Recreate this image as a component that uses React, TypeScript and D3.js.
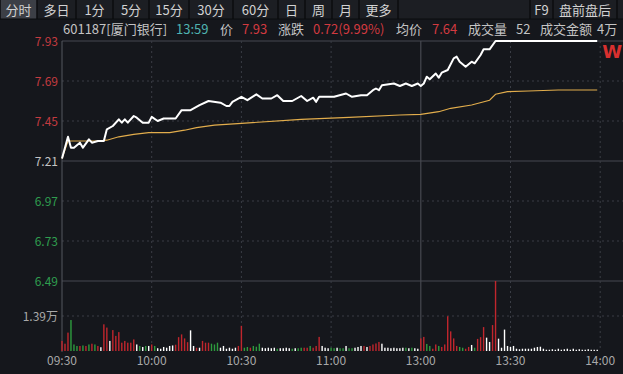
import React from "react";
import * as d3 from "d3";

const W = 623;
const H = 374;

// toolbar
const tabLabels = ["分时", "多日", "1分", "5分", "15分", "30分", "60分", "日", "周", "月", "更多"];
const tabEdges = [0, 37, 76, 113, 149, 189, 233, 278, 305, 332, 359, 398];
const rightTabLabels = ["F9", "盘前盘后"];
const rightTabEdges = [530, 553, 617];

// header info
const headerItems: [string, number, string][] = [
  ["601187[厦门银行]", 63, "label"],
  ["13:59", 176, "time"],
  ["价", 220, "label"],
  ["7.93", 242, "up"],
  ["涨跌", 278, "label"],
  ["0.72(9.99%)", 313, "up"],
  ["均价", 396, "label"],
  ["7.64", 432, "up"],
  ["成交量", 468, "label"],
  ["52", 516, "label"],
  ["成交金额", 540, "label"],
  ["4万", 597, "label"],
];

// axes
const priceTicks = [7.93, 7.69, 7.45, 7.21, 6.97, 6.73, 6.49];
const prevClose = 7.21;
const timeTicks = [0, 30, 60, 90, 120, 150, 180];
const timeLabels = ["09:30", "10:00", "10:30", "11:00", "13:00", "13:30", "14:00"];
const volTick = 1.39;
const volTickLabel = "1.39万";

// price line (minute index, price)
const priceMin = [0, 2, 3, 4, 6, 7, 9, 10, 12, 14, 15, 17, 19, 20, 21, 22, 24, 25, 27, 29, 30, 32, 34, 38, 40, 43, 46, 49, 53, 55, 56, 57, 60, 62, 65, 67, 70, 72, 74, 77, 80, 82, 84, 85, 86, 91, 95, 97, 100, 102, 104, 105, 106, 107, 111, 113, 115, 117, 119, 120, 121, 122, 123, 125, 126, 127, 129, 131, 132, 133, 135, 137, 138, 140, 141, 143, 145, 179];
const priceVal = [7.225, 7.356, 7.29, 7.29, 7.32, 7.29, 7.34, 7.32, 7.33, 7.33, 7.40, 7.42, 7.46, 7.44, 7.46, 7.44, 7.48, 7.47, 7.44, 7.44, 7.475, 7.45, 7.465, 7.465, 7.515, 7.515, 7.545, 7.57, 7.56, 7.54, 7.54, 7.565, 7.595, 7.575, 7.61, 7.585, 7.585, 7.605, 7.57, 7.57, 7.60, 7.57, 7.59, 7.565, 7.595, 7.595, 7.615, 7.595, 7.605, 7.605, 7.635, 7.645, 7.635, 7.665, 7.675, 7.66, 7.675, 7.66, 7.675, 7.66, 7.675, 7.716, 7.70, 7.735, 7.71, 7.74, 7.756, 7.826, 7.836, 7.806, 7.776, 7.806, 7.796, 7.846, 7.88, 7.88, 7.93, 7.93];

// average price line
const avgMin = [0, 2, 12, 15, 19, 24, 29, 36, 41, 45, 51, 60, 80, 96, 113, 120, 126, 130, 137, 143, 145, 149, 156, 166, 179];
const avgVal = [7.225, 7.33, 7.33, 7.335, 7.355, 7.37, 7.38, 7.38, 7.395, 7.41, 7.425, 7.436, 7.46, 7.472, 7.486, 7.49, 7.506, 7.526, 7.546, 7.575, 7.61, 7.626, 7.63, 7.636, 7.636];

// volume per minute (万) and direction
const volume = [
  0.40, 0.29, 0.73, 1.23, 0.26, 0.20, 0.20, 0.22, 0.20, 0.26,
  0.29, 0.26, 0.20, 0.15, 1.06, 0.93, 0.40, 0.83, 0.60, 0.75,
  0.33, 0.40, 0.33, 0.33, 0.46, 0.26, 0.20, 0.16, 0.20, 0.20,
  0.26, 0.20, 0.11, 0.09, 0.16, 0.13, 0.20, 0.22, 0.25, 0.55,
  0.66, 0.50, 0.35, 0.82, 0.20, 0.13, 0.13, 0.40, 0.33, 0.33,
  0.29, 0.26, 0.33, 0.13, 0.20, 0.09, 0.13, 0.09, 0.13, 0.20,
  1.00, 0.13, 0.16, 0.13, 0.20, 0.17, 0.29, 0.13, 0.11, 0.13,
  0.11, 0.13, 0.09, 0.11, 0.11, 0.13, 0.11, 0.09, 0.11, 0.11,
  0.13, 0.13, 0.13, 0.20, 0.13, 0.20, 0.56, 0.20, 0.13, 0.11,
  0.13, 0.11, 0.13, 0.11, 0.11, 0.20, 0.11, 0.11, 0.13, 0.16,
  0.20, 0.20, 0.16, 0.20, 0.26, 0.30, 0.36, 0.29, 0.13, 0.13,
  0.11, 0.13, 0.11, 0.11, 0.13, 0.13, 0.11, 0.13, 0.11, 0.09,
  0.50, 0.56, 0.28, 0.20, 0.09, 0.26, 0.20, 0.16, 0.26, 1.38,
  0.78, 0.50, 0.20, 0.16, 0.13, 0.09, 0.16, 0.24, 0.13, 0.48,
  0.55, 0.95, 0.53, 0.36, 1.03, 2.78, 0.49, 0.13, 0.85, 0.20,
  0.16, 0.20, 0.09, 0.07, 0.09, 0.09, 0.09, 0.09, 0.13, 0.16,
  0.17, 0.09, 0.05, 0.05, 0.07, 0.05, 0.09, 0.05, 0.07, 0.09,
  0.05, 0.09, 0.05, 0.07, 0.05, 0.05, 0.07, 0.05, 0.05, 0.05,
];
const volumeDir =
  "rrrgggrgrg" + "rgrwrrwrrr" + "rrrrrwgwgw" + "rgwwwwwwrr" + "rrrwwrwrrr" + "gggwwwwwwr" +
  "rggrgggwww" + "wwgwwwwgwg" + "grrgrrrwww" + "ggwggwggww" + "wrwrrrrwww" + "wwwwwgwgww" +
  "rrggrrgrrr" + "rrrggrrwgr" + "rrwwrrwwww" + "wwwwwwwwww" + "wwwwwwwwww" + "wwwwwwwwww";

const BG = "#15171c";
const BAR_BG = "#1c1e23";
const RED = "#d23a40";
const AXIS_RED = "#c33b40";
const GREEN = "#2f9e4f";
const GRAY = "#c4c4c4";
const GRID = "#3a3d45";
const SOLID = "#464950";
const FONT = "'Noto Sans CJK SC', 'Noto Sans', sans-serif";

export default function App() {
  const left = 62;
  const xs = d3.scaleLinear().domain([0, 180]).range([left, 600.2]);
  const ys = d3.scaleLinear().domain([6.49, 7.93]).range([281, 41]);
  const vs = d3.scaleLinear().domain([0, 2.78]).range([351, 281]);

  const priceData = priceMin.map((m, i) => [m, priceVal[i]] as [number, number]);
  const avgData = avgMin.map((m, i) => [m, avgVal[i]] as [number, number]);
  const line = d3
    .line<[number, number]>()
    .x((d) => xs(d[0]))
    .y((d) => ys(d[1]));

  const dirColor = (c: string) => (c === "r" ? "#c0262d" : c === "g" ? "#2e9c3e" : "#ffffff");
  const headColor = (k: string) => (k === "up" ? RED : k === "time" ? "#4fb3b0" : GRAY);
  const tickColor = (p: number) => (p > prevClose + 1e-6 ? AXIS_RED : p < prevClose - 1e-6 ? GREEN : GRAY);

  return (
    <svg
      width={W}
      height={H}
      style={{ position: "absolute", left: 0, top: 0, display: "block" }}
      fontFamily={FONT}
    >
      <rect x={0} y={0} width={W} height={H} fill={BG} />
      {/* toolbar */}
      <rect x={0} y={0} width={W} height={19} fill={BAR_BG} />
      <rect x={0} y={0} width={37} height={19} fill="#3c3f46" />
      {tabEdges.map((e, i) => (
        <line key={"te" + i} x1={e} x2={e} y1={0} y2={19} stroke="#0b0c0f" strokeWidth={1.5} />
      ))}
      {rightTabEdges.map((e, i) => (
        <line key={"re" + i} x1={e} x2={e} y1={0} y2={19} stroke="#0b0c0f" strokeWidth={1.5} />
      ))}
      <line x1={0} x2={W} y1={19} y2={19} stroke="#0b0c0f" strokeWidth={1} />
      {tabLabels.map((t, i) => (
        <text
          key={"t" + i}
          x={(tabEdges[i] + tabEdges[i + 1]) / 2}
          y={14.5}
          fontSize={13}
          fill="#d2d2d2"
          textAnchor="middle"
        >
          {t}
        </text>
      ))}
      {rightTabLabels.map((t, i) => (
        <text
          key={"rt" + i}
          x={(rightTabEdges[i] + rightTabEdges[i + 1]) / 2}
          y={14.5}
          fontSize={13}
          fill="#d2d2d2"
          textAnchor="middle"
        >
          {t}
        </text>
      ))}
      {/* header */}
      {headerItems.map(([t, x, k], i) => (
        <text key={"h" + i} x={x} y={34} fontSize={13} fill={headColor(k)}>
          {t}
        </text>
      ))}
      {/* grid */}
      {priceTicks.map((p, i) => {
        const solid = i === 0 || p === prevClose || i === priceTicks.length - 1;
        return (
          <line
            key={"g" + i}
            x1={left}
            x2={W}
            y1={ys(p)}
            y2={ys(p)}
            stroke={solid ? SOLID : GRID}
            strokeWidth={solid ? 1.2 : 1}
            strokeDasharray={solid ? undefined : "2,3"}
          />
        );
      })}
      <line x1={left} x2={W} y1={vs(volTick)} y2={vs(volTick)} stroke={GRID} strokeDasharray="2,3" />
      {timeTicks.slice(1).map((m, i) => (
        <line
          key={"v" + i}
          x1={xs(m)}
          x2={xs(m)}
          y1={41}
          y2={351}
          stroke={m === 120 ? SOLID : GRID}
          strokeWidth={m === 120 ? 1.2 : 1}
          strokeDasharray={m === 120 ? undefined : "2,3"}
        />
      ))}
      <line x1={left} x2={left} y1={41} y2={352} stroke="#55585f" strokeWidth={1} />
      {/* y labels */}
      {priceTicks.map((p, i) => (
        <text
          key={"yl" + i}
          x={58}
          y={ys(p) + 4.5}
          fontSize={12}
          textAnchor="end"
          fill={tickColor(p)}
        >
          {p.toFixed(2)}
        </text>
      ))}
      <text x={58} y={vs(volTick) + 4.5} fontSize={12} textAnchor="end" fill="#a9a9a9">
        {volTickLabel}
      </text>
      {/* x labels */}
      {timeTicks.map((m, i) => (
        <text key={"xl" + i} x={xs(m)} y={364.5} fontSize={12} textAnchor="middle" fill="#a8a8a8">
          {timeLabels[i]}
        </text>
      ))}
      {/* volume bars */}
      {volume.map((v, i) => (
        <rect
          key={"b" + i}
          x={xs(i) - 0.7}
          y={vs(v)}
          width={1.4}
          height={vs(0) - vs(v)}
          fill={dirColor(volumeDir[i])}
        />
      ))}
      {/* lines */}
      <path d={line(avgData) || ""} fill="none" stroke="#e2ad4c" strokeWidth={1.1} />
      <path d={line(priceData) || ""} fill="none" stroke="#ffffff" strokeWidth={2} strokeLinejoin="round" />
      <text x={622} y={58} fontSize={18} fontWeight="bold" fill="#d8302f" textAnchor="end" fontFamily="'DejaVu Sans', sans-serif">
        W
      </text>
    </svg>
  );
}
